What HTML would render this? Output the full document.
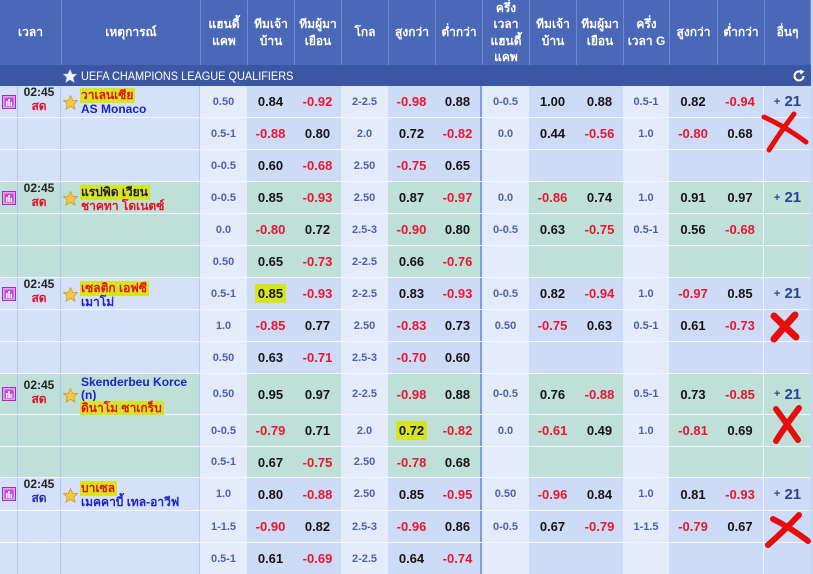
<!DOCTYPE html>
<html><head><meta charset="utf-8">
<style>
*{box-sizing:border-box}
body{margin:0;width:813px;height:574px;overflow:hidden;background:#c9d6f2;font-family:"Liberation Sans","DejaVu Sans",Tahoma,sans-serif;position:relative}
.hd{position:absolute;top:0;height:65px;background:#4a67b8;color:#fff;font-weight:bold;font-size:12px;display:flex;flex-direction:column;align-items:center;justify-content:center;text-align:center;border-left:1px solid #7089cc}
.hd span{display:block;height:16.5px;line-height:16.5px;white-space:nowrap;overflow:visible}
.lg{position:absolute;left:0;top:65px;width:811px;height:21px;background:#3b56a2;color:#fff}
.lg .tx{position:absolute;left:81px;top:4px;font-size:12px;line-height:14px;transform:scaleX(0.91);transform-origin:left center;white-space:nowrap}
.r{position:absolute;left:0;width:811px;display:flex;border-bottom:1px solid #f3f6fe}
.r>div{height:100%;display:flex;align-items:center;justify-content:center;font-weight:bold;font-size:13px;color:#141414;flex:none;width:47px}
.r>div:nth-child(1){width:18px;border-right:1px solid #b3c5ea}
.r>div:nth-child(2){width:43px;border-right:1px solid #b3c5ea}
.r>div:nth-child(3){width:139px;border-right:1px solid #b8c9ec}
.r>div:nth-child(9){border-right:2px solid #7d9de6}
.r>div:nth-child(13){width:46px}
.r>div:nth-child(14){width:48px}
.r>div:nth-child(15){border-right:1px solid #eef3fd}
.b{background:#cedbf6}
.b>div:nth-child(1),.b>div:nth-child(2),.b>div:nth-child(3){background:#d5e1f8}
.g{background:#bfdfd9}
.r>div:nth-child(4),.r>div:nth-child(7),.r>div:nth-child(10),.r>div:nth-child(13){background:#e4ecfb}
.r>div.h{font-size:11px;color:#4d60ad}
.r>div.n{color:#e8172f}
.r>div.o{color:#2c4592;font-size:15px}
.r>div.t,.r>div.e{display:block;position:relative}
.t>div{position:absolute;left:0;right:0;text-align:center;font-size:12px;line-height:14px;color:#222}
.sd{color:#e0102a}
.e .nm{position:absolute;left:20px;font-size:12px;line-height:14px;white-space:nowrap}
.e svg{position:absolute;left:2px}
.rd{color:#e60f1a}
.bl{color:#1b22c8}
.dk{color:#1c1c3c}
.hl{background:#d6e51f;padding:0 2px 1px 1px;margin-left:-1px}
.hn{background:#d6e51f;padding:2px 3px}
</style></head><body>

<div class="hd" style="left:0;width:61px;border-left:none"><span>เวลา</span></div>
<div class="hd" style="left:61px;width:139px"><span>เหตุการณ์</span></div>
<div class="hd" style="left:200px;width:47px"><span>แฮนดี้</span><span>แคพ</span></div>
<div class="hd" style="left:247px;width:47px"><span>ทีมเจ้า</span><span>บ้าน</span></div>
<div class="hd" style="left:294px;width:47px"><span>ทีมผู้มา</span><span>เยือน</span></div>
<div class="hd" style="left:341px;width:47px"><span>โกล</span></div>
<div class="hd" style="left:388px;width:47px"><span>สูงกว่า</span></div>
<div class="hd" style="left:435px;width:47px"><span>ต่ำกว่า</span></div>
<div class="hd" style="left:482px;width:47px"><span>ครึ่ง</span><span>เวลา</span><span>แฮนดี้</span><span>แคพ</span></div>
<div class="hd" style="left:529px;width:47px"><span>ทีมเจ้า</span><span>บ้าน</span></div>
<div class="hd" style="left:576px;width:47px"><span>ทีมผู้มา</span><span>เยือน</span></div>
<div class="hd" style="left:623px;width:46px"><span>ครึ่ง</span><span>เวลา G</span></div>
<div class="hd" style="left:669px;width:48px"><span>สูงกว่า</span></div>
<div class="hd" style="left:717px;width:47px"><span>ต่ำกว่า</span></div>
<div class="hd" style="left:764px;width:47px;border-right:1px solid #7089cc"><span>อื่นๆ</span></div>

<div class="lg">
<svg style="position:absolute;left:63px;top:4px" width="14" height="14" viewBox="0 0 15 15"><polygon points="7.5,0.5 9.6,5.3 14.6,5.6 10.8,9 12,14.2 7.5,11.4 3,14.2 4.2,9 0.4,5.6 5.4,5.3" fill="#f2f4fa" stroke="#c8d0e8" stroke-width="0.6"/></svg>
<span class="tx">UEFA CHAMPIONS LEAGUE QUALIFIERS</span>
<svg style="position:absolute;left:792px;top:4px" width="14" height="14" viewBox="0 0 14 14"><path d="M11.5 7 A4.5 4.5 0 1 1 9.5 3.2" fill="none" stroke="#fff" stroke-width="2"/><polygon points="8,0.5 12.5,2.5 8.5,5.8" fill="#fff"/></svg>
</div>

<!-- G1 -->
<div class="r b" style="top:86px;height:32px">
<div><svg width="14" height="14" viewBox="0 0 14 14"><rect x=".5" y=".5" width="13" height="13" fill="#e2a6ee" stroke="#a12eb6"/><rect x="2.5" y="2.5" width="9" height="9" fill="#c04fd2"/><rect x="4" y="6" width="1.5" height="5" fill="#fff"/><rect x="6.3" y="4" width="1.5" height="7" fill="#fff"/><rect x="8.6" y="7" width="1.5" height="4" fill="#fff"/></svg></div>
<div class="t"><div style="top:-1px">02:45<br><span class="sd">สด</span></div></div>
<div class="e"><svg style="top:9px" width="15" height="15" viewBox="0 0 15 15"><polygon points="7.5,0.5 9.6,5.3 14.6,5.6 10.8,9 12,14.2 7.5,11.4 3,14.2 4.2,9 0.4,5.6 5.4,5.3" fill="#f5c842" stroke="#c99a2a" stroke-width="0.8"/></svg><div class="nm" style="top:2px"><span class="hl rd">วาเลนเซีย</span><br><span class="bl">AS Monaco</span></div></div>
<div class="h">0.50</div><div>0.84</div><div class="n">-0.92</div><div class="h">2-2.5</div><div class="n">-0.98</div><div>0.88</div><div class="h">0-0.5</div><div>1.00</div><div>0.88</div><div class="h">0.5-1</div><div>0.82</div><div class="n">-0.94</div><div class="o"><span style="font-size:11px">+</span>&nbsp;21</div>
</div>
<div class="r b" style="top:118px;height:32px"><div></div><div></div><div></div><div class="h">0.5-1</div><div class="n">-0.88</div><div>0.80</div><div class="h">2.0</div><div>0.72</div><div class="n">-0.82</div><div class="h">0.0</div><div>0.44</div><div class="n">-0.56</div><div class="h">1.0</div><div class="n">-0.80</div><div>0.68</div><div></div></div>
<div class="r b" style="top:150px;height:32px"><div></div><div></div><div></div><div class="h">0-0.5</div><div>0.60</div><div class="n">-0.68</div><div class="h">2.50</div><div class="n">-0.75</div><div>0.65</div><div></div><div></div><div></div><div></div><div></div><div></div><div></div></div>

<!-- G2 -->
<div class="r g" style="top:182px;height:32px">
<div><svg width="14" height="14" viewBox="0 0 14 14"><rect x=".5" y=".5" width="13" height="13" fill="#e2a6ee" stroke="#a12eb6"/><rect x="2.5" y="2.5" width="9" height="9" fill="#c04fd2"/><rect x="4" y="6" width="1.5" height="5" fill="#fff"/><rect x="6.3" y="4" width="1.5" height="7" fill="#fff"/><rect x="8.6" y="7" width="1.5" height="4" fill="#fff"/></svg></div>
<div class="t"><div style="top:-1px">02:45<br><span class="sd">สด</span></div></div>
<div class="e"><svg style="top:9px" width="15" height="15" viewBox="0 0 15 15"><polygon points="7.5,0.5 9.6,5.3 14.6,5.6 10.8,9 12,14.2 7.5,11.4 3,14.2 4.2,9 0.4,5.6 5.4,5.3" fill="#f5c842" stroke="#c99a2a" stroke-width="0.8"/></svg><div class="nm" style="top:3px"><span class="hl dk">แรปพิด เวียน</span><br><span class="rd">ชาคทา โดเนตซ์</span></div></div>
<div class="h">0-0.5</div><div>0.85</div><div class="n">-0.93</div><div class="h">2.50</div><div>0.87</div><div class="n">-0.97</div><div class="h">0.0</div><div class="n">-0.86</div><div>0.74</div><div class="h">1.0</div><div>0.91</div><div>0.97</div><div class="o"><span style="font-size:11px">+</span>&nbsp;21</div>
</div>
<div class="r g" style="top:214px;height:32px"><div></div><div></div><div></div><div class="h">0.0</div><div class="n">-0.80</div><div>0.72</div><div class="h">2.5-3</div><div class="n">-0.90</div><div>0.80</div><div class="h">0-0.5</div><div>0.63</div><div class="n">-0.75</div><div class="h">0.5-1</div><div>0.56</div><div class="n">-0.68</div><div></div></div>
<div class="r g" style="top:246px;height:32px"><div></div><div></div><div></div><div class="h">0.50</div><div>0.65</div><div class="n">-0.73</div><div class="h">2-2.5</div><div>0.66</div><div class="n">-0.76</div><div></div><div></div><div></div><div></div><div></div><div></div><div></div></div>

<!-- G3 -->
<div class="r b" style="top:278px;height:32px">
<div><svg width="14" height="14" viewBox="0 0 14 14"><rect x=".5" y=".5" width="13" height="13" fill="#e2a6ee" stroke="#a12eb6"/><rect x="2.5" y="2.5" width="9" height="9" fill="#c04fd2"/><rect x="4" y="6" width="1.5" height="5" fill="#fff"/><rect x="6.3" y="4" width="1.5" height="7" fill="#fff"/><rect x="8.6" y="7" width="1.5" height="4" fill="#fff"/></svg></div>
<div class="t"><div style="top:-1px">02:45<br><span class="sd">สด</span></div></div>
<div class="e"><svg style="top:9px" width="15" height="15" viewBox="0 0 15 15"><polygon points="7.5,0.5 9.6,5.3 14.6,5.6 10.8,9 12,14.2 7.5,11.4 3,14.2 4.2,9 0.4,5.6 5.4,5.3" fill="#f5c842" stroke="#c99a2a" stroke-width="0.8"/></svg><div class="nm" style="top:3px"><span class="hl rd">เซลติก เอฟซี</span><br><span class="bl">เมาโม่</span></div></div>
<div class="h">0.5-1</div><div><span class="hn">0.85</span></div><div class="n">-0.93</div><div class="h">2-2.5</div><div>0.83</div><div class="n">-0.93</div><div class="h">0-0.5</div><div>0.82</div><div class="n">-0.94</div><div class="h">1.0</div><div class="n">-0.97</div><div>0.85</div><div class="o"><span style="font-size:11px">+</span>&nbsp;21</div>
</div>
<div class="r b" style="top:310px;height:32px"><div></div><div></div><div></div><div class="h">1.0</div><div class="n">-0.85</div><div>0.77</div><div class="h">2.50</div><div class="n">-0.83</div><div>0.73</div><div class="h">0.50</div><div class="n">-0.75</div><div>0.63</div><div class="h">0.5-1</div><div>0.61</div><div class="n">-0.73</div><div></div></div>
<div class="r b" style="top:342px;height:32px"><div></div><div></div><div></div><div class="h">0.50</div><div>0.63</div><div class="n">-0.71</div><div class="h">2.5-3</div><div class="n">-0.70</div><div>0.60</div><div></div><div></div><div></div><div></div><div></div><div></div><div></div></div>

<!-- G4 -->
<div class="r g" style="top:374px;height:41px">
<div><svg width="14" height="14" viewBox="0 0 14 14"><rect x=".5" y=".5" width="13" height="13" fill="#e2a6ee" stroke="#a12eb6"/><rect x="2.5" y="2.5" width="9" height="9" fill="#c04fd2"/><rect x="4" y="6" width="1.5" height="5" fill="#fff"/><rect x="6.3" y="4" width="1.5" height="7" fill="#fff"/><rect x="8.6" y="7" width="1.5" height="4" fill="#fff"/></svg></div>
<div class="t"><div style="top:4px">02:45<br><span class="sd">สด</span></div></div>
<div class="e"><svg style="top:14px" width="15" height="15" viewBox="0 0 15 15"><polygon points="7.5,0.5 9.6,5.3 14.6,5.6 10.8,9 12,14.2 7.5,11.4 3,14.2 4.2,9 0.4,5.6 5.4,5.3" fill="#f5c842" stroke="#c99a2a" stroke-width="0.8"/></svg><div class="nm" style="top:2px;line-height:13px"><span class="bl">Skenderbeu Korce</span><br><span class="bl">(n)</span><br><span class="hl rd">ดินาโม ซาเกร็บ</span></div></div>
<div class="h">0.50</div><div>0.95</div><div>0.97</div><div class="h">2-2.5</div><div class="n">-0.98</div><div>0.88</div><div class="h">0-0.5</div><div>0.76</div><div class="n">-0.88</div><div class="h">0.5-1</div><div>0.73</div><div class="n">-0.85</div><div class="o"><span style="font-size:11px">+</span>&nbsp;21</div>
</div>
<div class="r g" style="top:415px;height:32px"><div></div><div></div><div></div><div class="h">0-0.5</div><div class="n">-0.79</div><div>0.71</div><div class="h">2.0</div><div><span class="hn">0.72</span></div><div class="n">-0.82</div><div class="h">0.0</div><div class="n">-0.61</div><div>0.49</div><div class="h">1.0</div><div class="n">-0.81</div><div>0.69</div><div></div></div>
<div class="r g" style="top:447px;height:31px"><div></div><div></div><div></div><div class="h">0.5-1</div><div>0.67</div><div class="n">-0.75</div><div class="h">2.50</div><div class="n">-0.78</div><div>0.68</div><div></div><div></div><div></div><div></div><div></div><div></div><div></div></div>

<!-- G5 -->
<div class="r b" style="top:478px;height:33px">
<div><svg width="14" height="14" viewBox="0 0 14 14"><rect x=".5" y=".5" width="13" height="13" fill="#e2a6ee" stroke="#a12eb6"/><rect x="2.5" y="2.5" width="9" height="9" fill="#c04fd2"/><rect x="4" y="6" width="1.5" height="5" fill="#fff"/><rect x="6.3" y="4" width="1.5" height="7" fill="#fff"/><rect x="8.6" y="7" width="1.5" height="4" fill="#fff"/></svg></div>
<div class="t"><div style="top:-1px">02:45<br><span class="sd" style="color:#2230b0">สด</span></div></div>
<div class="e"><svg style="top:10px" width="15" height="15" viewBox="0 0 15 15"><polygon points="7.5,0.5 9.6,5.3 14.6,5.6 10.8,9 12,14.2 7.5,11.4 3,14.2 4.2,9 0.4,5.6 5.4,5.3" fill="#f5c842" stroke="#c99a2a" stroke-width="0.8"/></svg><div class="nm" style="top:3px"><span class="hl rd">บาเซล</span><br><span class="bl">เมคคาบี้ เทล-อาวีฟ</span></div></div>
<div class="h">1.0</div><div>0.80</div><div class="n">-0.88</div><div class="h">2.50</div><div>0.85</div><div class="n">-0.95</div><div class="h">0.50</div><div class="n">-0.96</div><div>0.84</div><div class="h">1.0</div><div>0.81</div><div class="n">-0.93</div><div class="o"><span style="font-size:11px">+</span>&nbsp;21</div>
</div>
<div class="r b" style="top:511px;height:32px"><div></div><div></div><div></div><div class="h">1-1.5</div><div class="n">-0.90</div><div>0.82</div><div class="h">2.5-3</div><div class="n">-0.96</div><div>0.86</div><div class="h">0-0.5</div><div>0.67</div><div class="n">-0.79</div><div class="h">1-1.5</div><div class="n">-0.79</div><div>0.67</div><div></div></div>
<div class="r b" style="top:543px;height:31px;border-bottom:none"><div></div><div></div><div></div><div class="h">0.5-1</div><div>0.61</div><div class="n">-0.69</div><div class="h">2-2.5</div><div>0.64</div><div class="n">-0.74</div><div></div><div></div><div></div><div></div><div></div><div></div><div></div></div>

<svg style="position:absolute;left:0;top:0" width="813" height="574" viewBox="0 0 813 574">
<g fill="none" stroke="#e60d0d" stroke-linecap="round">
<path d="M764 117 Q786 127 806 142" stroke-width="5"/>
<path d="M794 114 Q781 131 769 150" stroke-width="5"/>
<path d="M774 316 Q785 327 796 337" stroke-width="7"/>
<path d="M795 315 Q784 327 774 339" stroke-width="7"/>
<path d="M776 409 Q787 424 798 440" stroke-width="6"/>
<path d="M799 408 Q786 425 776 441" stroke-width="6"/>
<path d="M773 519 Q791 528 808 541" stroke-width="6"/>
<path d="M799 515 Q785 530 768 545" stroke-width="6"/>
</g>
</svg>
</body></html>
